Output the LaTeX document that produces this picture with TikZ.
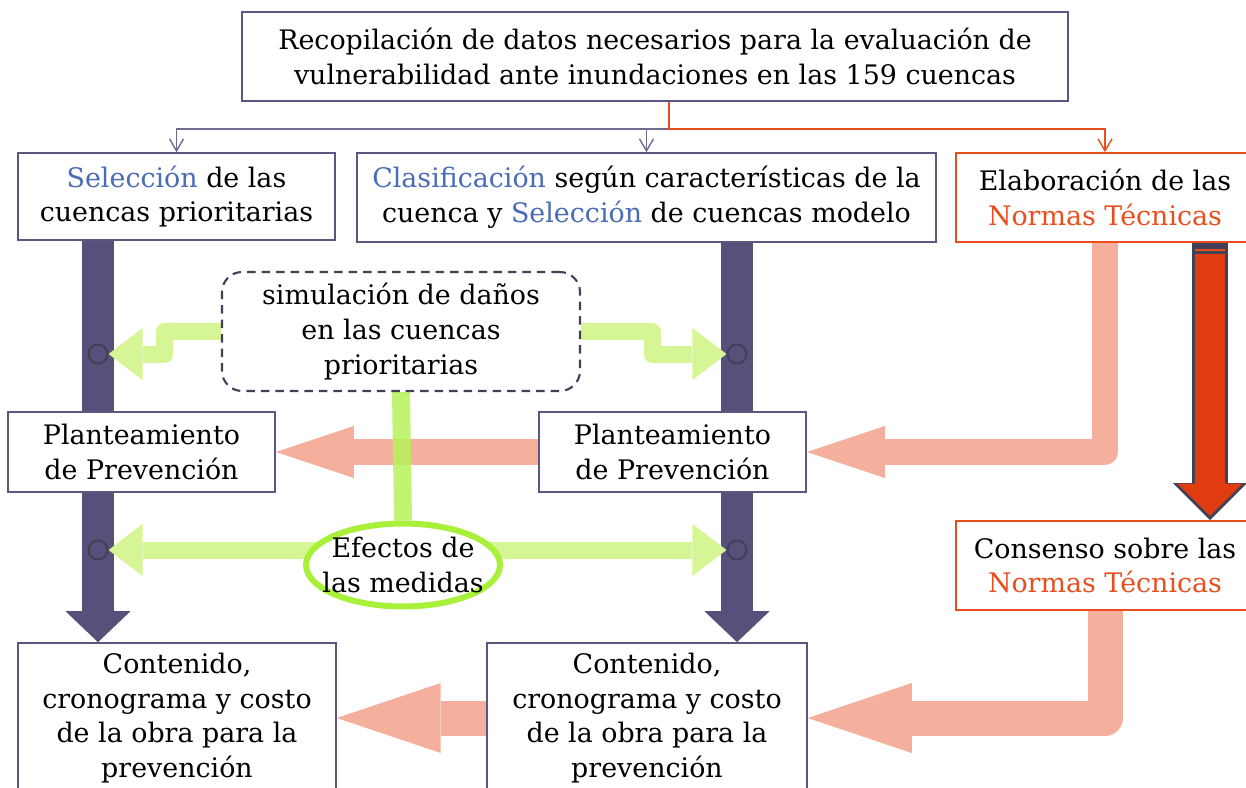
\documentclass[tikz,border=0pt]{standalone}
\usepackage{fontspec}
\setmainfont{DejaVu Serif}
\definecolor{boxline}{RGB}{92, 86, 128}
\definecolor{thinline}{RGB}{110, 106, 145}
\definecolor{barfill}{RGB}{88, 80, 122}
\definecolor{bardark}{RGB}{66, 64, 86}
\definecolor{bluetxt}{RGB}{72, 108, 182}
\definecolor{orred}{RGB}{232, 78, 30}
\definecolor{redfill}{RGB}{224, 60, 16}
\definecolor{lightgreen}{RGB}{214, 246, 150}
\definecolor{midgreen}{RGB}{182, 242, 90}
\definecolor{limegreen}{RGB}{168, 240, 58}
\definecolor{salmon}{RGB}{244, 176, 156}
\usetikzlibrary{arrows.meta, shapes.geometric, backgrounds}
\newcommand{\mainsize}{\fontsize{15.3}{19.8}\selectfont}
\newcommand{\azul}[1]{\textcolor{bluetxt}{#1}}
\newcommand{\rojo}[1]{\textcolor{orred}{#1}}
\tikzset{
	box/.style={rectangle, draw=boxline, line width=0.9pt, fill=white, align=center, inner sep=0pt, font=\mainsize},
	orbox/.style={box, draw=orred},
	simbox/.style={box, draw=bardark, line width=1.2pt, dash pattern=on 0.17cm off 0.12cm, rounded corners=0.4cm},
	efecto/.style={ellipse, draw=limegreen, line width=0.12cm, fill=white, align=center, inner xsep=-0.3cm, inner ysep=-0.05cm, font=\mainsize, minimum width=3.88cm, minimum height=1.66cm},
	ojal/.style={circle, draw=bardark, line width=1.2pt, minimum size=0.38cm, inner sep=0pt},
	linea/.style={-{Straight Barb[length=0.24cm, width=0.28cm]}, line width=0.8pt, draw=thinline},
	linearoja/.style={linea, draw=orred},
	barra/.style={-{Triangle[width=1.3cm, length=0.62cm, line width=0pt]}, line width=0.64cm, draw=barfill},
	verde/.style={-{Triangle[width=1.04cm, length=0.68cm, line width=0pt]}, line width=0.34cm, draw=lightgreen, line join=round},
	verdebarra/.style={line width=0.36cm, draw=midgreen, opacity=0.85},
	salmonarrow/.style={-{Triangle[width=1.04cm, length=1.56cm, line width=0pt]}, line width=0.52cm, draw=salmon, line join=round},
	salmonbig/.style={-{Triangle[width=1.4cm, length=2.08cm, line width=0pt]}, line width=0.7cm, draw=salmon, line join=round},
	rojoout/.style={-{Triangle[width=1.48cm, length=0.74cm, line width=0pt]}, line width=0.72cm, draw=bardark},
	rojoin/.style={-{Triangle[width=1.3cm, length=0.64cm, line width=0pt]}, line width=0.6cm, draw=redfill, shorten >=0.09cm},
}
\begin{document}
\begin{tikzpicture}[x=0.02cm, y=-0.02cm]
	\useasboundingbox (0,0) rectangle (1246,787);
	\node[box, minimum width=16.52cm, minimum height=1.78cm] (datos) at (655,56.5) {Recopilación de datos necesarios para la evaluación de\\vulnerabilidad ante inundaciones en las 159 cuencas};
	\node[box, minimum width=6.34cm, minimum height=1.74cm] (selec) at (176.5,196.5) {\azul{Selección} de las\\cuencas prioritarias};
	\node[box, minimum width=11.58cm, minimum height=1.78cm] (clasif) at (646.5,197.5) {\azul{Clasificación} según características de la\\cuenca y \azul{Selección} de cuencas modelo};
	\node[orbox, minimum width=5.96cm, minimum height=1.78cm] (elab) at (1105,197.5) {Elaboración de las\\\rojo{Normas Técnicas}};
	\node[simbox, minimum width=7.16cm, minimum height=2.38cm] (simul) at (401,331.5) {simulación de daños\\en las cuencas\\prioritarias};
	\node[box, minimum width=5.34cm, minimum height=1.6cm] (plana) at (141.5,452) {Planteamiento\\de Prevención};
	\node[box, minimum width=5.34cm, minimum height=1.6cm] (planb) at (672.5,452) {Planteamiento\\de Prevención};
	\node[efecto] (efect) at (403,565) {Efectos de\\las medidas};
	\node[orbox, minimum width=5.96cm, minimum height=1.78cm] (consen) at (1105,565.5) {Consenso sobre las\\\rojo{Normas Técnicas}};
	\node[box, minimum width=6.36cm, minimum height=3cm] (conta) at (177,718) {Contenido,\\cronograma y costo\\de la obra para la\\prevención};
	\node[box, minimum width=6.4cm, minimum height=3cm] (contb) at (647,718) {Contenido,\\cronograma y costo\\de la obra para la\\prevención};
	\node[ojal] (oa) at (98,354) {};
	\node[ojal] (ob) at (737,354) {};
	\node[ojal] (oc) at (98,550) {};
	\node[ojal] (od) at (737,550) {};
	\coordinate (split) at (669,129);
	\coordinate (rojo) at (1210,0);
	% thin connectors from the top box
	\draw[linea] (split) -| (selec.north);
	\draw[linea] (split -| clasif.north) -- (clasif.north);
	\draw[linearoja] (datos.south -| split) -- (split) -| (elab.north);
	\begin{pgfonlayer}{background}
		% heavy arrows
		\draw[barra] (oa |- selec.south) -- (oa |- conta.north);
		\draw[barra] (ob |- clasif.south) -- (ob |- contb.north);
		\draw[rojoout] (elab.south -| rojo) -- (consen.north -| rojo);
		\draw[rojoin] ([yshift=-0.22cm]elab.south -| rojo) -- (consen.north -| rojo);
		\draw[orred, line width=1.2pt] ([xshift=-0.3cm,yshift=-0.14cm]elab.south -| rojo) -- ++(30,0);
		\draw[salmonarrow] (elab.south) |- (planb.east);
		\draw[salmonarrow] (planb.west) -- (plana.east);
		\draw[salmonbig] (consen.south) |- (contb.east);
		\draw[salmonbig] (contb.west) -- (conta.east);
		% green links
		\draw[verde] (simul.west) -- ++(-56,0) |- (oa.east);
		\draw[verde] (simul.east) -- ++(71,0) |- (ob.west);
		\draw[verde] (efect.center |- oc) -- (oc.east);
		\draw[verde] (efect.center |- od) -- (od.west);
		\draw[verdebarra] (simul.south) -- (efect.north);
	\end{pgfonlayer}
\end{tikzpicture}
\end{document}
